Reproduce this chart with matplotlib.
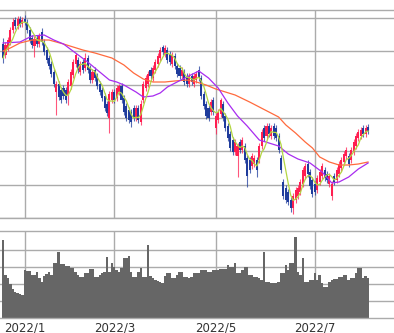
import matplotlib.pyplot as plt
import pandas as pd

# daily candles (mid Dec 2021 .. early Aug 2022), price units
opens = [1522, 1489, 1510, 1528, 1564, 1594, 1576, 1597, 1582, 1597,
         1588, 1564, 1540, 1516, 1540, 1522, 1558, 1528, 1504, 1480,
         1462, 1438, 1378, 1402, 1384, 1390, 1384, 1369, 1396, 1429,
         1462, 1474, 1438, 1468, 1450, 1480, 1450, 1414, 1444, 1426,
         1402, 1384, 1366, 1342, 1300, 1354, 1378, 1360, 1378, 1396,
         1360, 1336, 1324, 1318, 1330, 1300, 1330, 1288, 1354, 1390,
         1402, 1444, 1420, 1444, 1462, 1480, 1513, 1492, 1504, 1492,
         1462, 1486, 1456, 1450, 1426, 1438, 1426, 1402, 1426, 1402,
         1414, 1444, 1420, 1372, 1342, 1330, 1318, 1354, 1270, 1294,
         1312, 1342, 1306, 1276, 1252, 1234, 1198, 1186, 1228, 1204,
         1216, 1180, 1174, 1156, 1162, 1174, 1174, 1216, 1270, 1246,
         1276, 1246, 1276, 1270, 1246, 1180, 1108, 1090, 1078, 1054,
         1030, 1054, 1066, 1078, 1102, 1126, 1162, 1138, 1114, 1102,
         1084, 1108, 1126, 1144, 1132, 1102, 1066, 1126, 1114, 1132,
         1150, 1168, 1186, 1186, 1174, 1198, 1216, 1240, 1246, 1270,
         1252, 1273]
closes = [1480, 1519, 1534, 1564, 1588, 1576, 1597, 1582, 1594, 1588,
          1564, 1534, 1519, 1537, 1522, 1546, 1528, 1498, 1474, 1456,
          1432, 1402, 1402, 1363, 1354, 1366, 1354, 1408, 1438, 1468,
          1489, 1444, 1462, 1444, 1480, 1444, 1414, 1438, 1420, 1396,
          1378, 1360, 1330, 1315, 1372, 1378, 1354, 1390, 1396, 1354,
          1318, 1300, 1294, 1288, 1300, 1330, 1294, 1342, 1402, 1420,
          1432, 1426, 1450, 1468, 1486, 1504, 1498, 1510, 1474, 1468,
          1489, 1456, 1432, 1426, 1444, 1408, 1402, 1426, 1408, 1426,
          1432, 1420, 1366, 1336, 1306, 1300, 1348, 1318, 1306, 1318,
          1354, 1300, 1270, 1240, 1210, 1198, 1228, 1216, 1204, 1234,
          1174, 1126, 1144, 1186, 1180, 1144, 1216, 1258, 1240, 1276,
          1252, 1270, 1246, 1240, 1204, 1144, 1066, 1054, 1048, 1030,
          1066, 1084, 1090, 1108, 1144, 1156, 1132, 1096, 1072, 1078,
          1120, 1138, 1156, 1120, 1114, 1126, 1102, 1108, 1144, 1162,
          1174, 1192, 1204, 1162, 1204, 1228, 1246, 1258, 1264, 1252,
          1270, 1261]
highs = [1540, 1528, 1543, 1573, 1600, 1603, 1606, 1606, 1603, 1609,
         1597, 1573, 1549, 1546, 1549, 1555, 1570, 1537, 1513, 1489,
         1471, 1447, 1411, 1411, 1393, 1399, 1393, 1417, 1447, 1477,
         1495, 1483, 1471, 1477, 1495, 1489, 1459, 1447, 1453, 1435,
         1411, 1393, 1375, 1351, 1381, 1387, 1387, 1399, 1402, 1405,
         1369, 1345, 1333, 1327, 1339, 1339, 1339, 1354, 1411, 1429,
         1441, 1453, 1459, 1477, 1495, 1513, 1519, 1519, 1513, 1501,
         1498, 1495, 1465, 1459, 1453, 1447, 1435, 1435, 1435, 1435,
         1441, 1456, 1429, 1381, 1351, 1339, 1357, 1363, 1315, 1327,
         1360, 1351, 1315, 1285, 1261, 1243, 1237, 1225, 1237, 1243,
         1225, 1189, 1183, 1195, 1189, 1183, 1225, 1267, 1279, 1285,
         1285, 1279, 1285, 1279, 1255, 1189, 1117, 1099, 1087, 1063,
         1075, 1093, 1099, 1117, 1153, 1165, 1174, 1147, 1123, 1111,
         1129, 1147, 1165, 1153, 1141, 1135, 1111, 1135, 1153, 1171,
         1183, 1201, 1213, 1195, 1213, 1237, 1255, 1267, 1273, 1279,
         1279, 1282]
lows = [1465, 1480, 1501, 1519, 1555, 1567, 1567, 1573, 1573, 1579,
        1555, 1525, 1510, 1483, 1513, 1513, 1519, 1489, 1465, 1447,
        1423, 1393, 1309, 1354, 1345, 1357, 1345, 1339, 1387, 1420,
        1453, 1435, 1429, 1435, 1441, 1435, 1405, 1405, 1411, 1387,
        1369, 1351, 1321, 1306, 1255, 1345, 1345, 1351, 1369, 1345,
        1309, 1291, 1285, 1273, 1291, 1291, 1285, 1279, 1345, 1381,
        1393, 1417, 1411, 1435, 1453, 1471, 1489, 1483, 1465, 1459,
        1453, 1447, 1423, 1417, 1417, 1399, 1393, 1393, 1399, 1393,
        1405, 1411, 1357, 1327, 1297, 1291, 1309, 1309, 1252, 1285,
        1303, 1291, 1261, 1231, 1201, 1189, 1189, 1123, 1195, 1195,
        1165, 1093, 1135, 1147, 1153, 1123, 1165, 1207, 1231, 1237,
        1243, 1237, 1237, 1231, 1195, 1135, 1057, 1045, 1039, 1018,
        1012, 1045, 1057, 1069, 1093, 1117, 1123, 1087, 1063, 1069,
        1075, 1099, 1117, 1111, 1105, 1093, 1054, 1099, 1105, 1123,
        1141, 1159, 1177, 1153, 1165, 1189, 1207, 1231, 1237, 1243,
        1243, 1252]
volumes = [459, 253, 235, 200, 171, 153, 147, 141, 135, 282,
           276, 276, 253, 253, 271, 235, 212, 247, 259, 271,
           253, 324, 324, 388, 318, 318, 306, 306, 294, 294,
           271, 253, 241, 241, 265, 265, 288, 288, 241, 241,
           253, 265, 271, 359, 271, 324, 300, 282, 271, 294,
           353, 353, 365, 271, 241, 241, 271, 294, 241, 241,
           429, 247, 235, 224, 218, 212, 206, 247, 265, 265,
           235, 235, 253, 271, 271, 241, 241, 235, 241, 265,
           265, 265, 282, 282, 282, 271, 271, 282, 282, 282,
           288, 288, 288, 312, 300, 300, 324, 265, 265, 282,
           300, 300, 253, 253, 241, 241, 235, 224, 388, 212,
           212, 206, 206, 206, 212, 265, 265, 312, 282, 324,
           324, 476, 271, 253, 353, 212, 212, 224, 224, 265,
           224, 253, 206, 182, 182, 212, 224, 229, 229, 241,
           241, 253, 253, 224, 235, 235, 265, 294, 294, 235,
           247, 235]

# 25-day and 75-day averages (bar index -> value)
ma25_idx = [0, 7, 12, 17, 21, 25, 30, 35, 40, 44, 47, 50, 55, 58, 62, 65, 68, 72, 76,
            81, 85, 89, 93, 97, 101, 106, 110, 114, 118, 122, 127, 132, 136, 139, 143,
            147, 151]
ma25_val = [1525, 1528, 1546, 1549, 1534, 1522, 1495, 1468, 1438, 1414, 1408, 1399,
            1378, 1363, 1366, 1375, 1393, 1408, 1423, 1441, 1420, 1390, 1345, 1306,
            1276, 1234, 1225, 1216, 1192, 1177, 1165, 1138, 1105, 1108, 1123, 1147, 1165]
ma75_idx = [0, 3, 7, 12, 19, 25, 33, 38, 45, 50, 54, 58, 62, 67, 71, 76, 80, 84, 88,
            92, 96, 102, 106, 110, 114, 117, 121, 125, 128, 131, 135, 139, 143, 147, 151]
ma75_val = [1501, 1510, 1525, 1534, 1534, 1522, 1504, 1495, 1480, 1459, 1435, 1417,
            1408, 1408, 1411, 1414, 1408, 1399, 1387, 1378, 1369, 1348, 1333, 1318,
            1303, 1279, 1255, 1228, 1210, 1183, 1168, 1159, 1159, 1162, 1168]

month_idx = [9, 46, 88, 129]
month_labels = ['2022/1', '2022/3', '2022/5', '2022/7']

UP = '#ff1e50'
DOWN = '#1f3c9c'
GRID = '#ababab'


def style(ax):
    ax.grid(True, color=GRID, linewidth=1)
    ax.set_axisbelow(True)
    ax.spines['left'].set_visible(False)
    ax.spines['right'].set_visible(False)
    for s in ('top', 'bottom'):
        ax.spines[s].set_color(GRID)
        ax.spines[s].set_linewidth(1)
    ax.tick_params(length=0, labelleft=False)


def main():
    fig = plt.figure(figsize=(3.94, 3.33), dpi=100)
    ax = fig.add_axes([0, 115 / 333, 1, 208.5 / 333])
    axv = fig.add_axes([0, 15 / 333, 1, 87 / 333], sharex=ax)

    n = len(closes)
    xs = list(range(n))
    colors = [UP if c >= o else DOWN for o, c in zip(opens, closes)]
    bottoms = [min(o, c) for o, c in zip(opens, closes)]
    heights = [max(abs(c - o), 2) for o, c in zip(opens, closes)]

    ax.vlines(xs, lows, highs, colors=colors, linewidth=0.8, alpha=0.75)
    ax.bar(xs, heights, bottom=bottoms, width=0.85, color=colors, linewidth=0)

    ma5 = pd.Series(closes).rolling(5, min_periods=1).mean()
    ax.plot(ma75_idx, ma75_val, color='#ff6a3d', linewidth=0.9)
    ax.plot(ma25_idx, ma25_val, color='#a82cf0', linewidth=0.9)
    ax.plot(xs, ma5, color='#b3d642', linewidth=0.9)

    ax.set_ylim(1000, 1625.5)
    ax.set_yticks([1000, 1100, 1200, 1300, 1400, 1500, 1600])
    ax.set_xlim(-1.27, 161.74)
    ax.set_xticks(month_idx)
    style(ax)
    ax.tick_params(labelbottom=False)

    axv.bar(xs, volumes, width=1.0, color='#666666', linewidth=0)
    axv.set_ylim(0, 512)
    axv.set_yticks([100, 200, 300, 400])
    axv.set_xticks(month_idx)
    axv.set_xticklabels(month_labels)
    style(axv)
    axv.tick_params(axis='x', labelsize=8.5, labelcolor='#333333', pad=2.5)

    plt.savefig('out.png', dpi=100)


if __name__ == '__main__':
    main()
